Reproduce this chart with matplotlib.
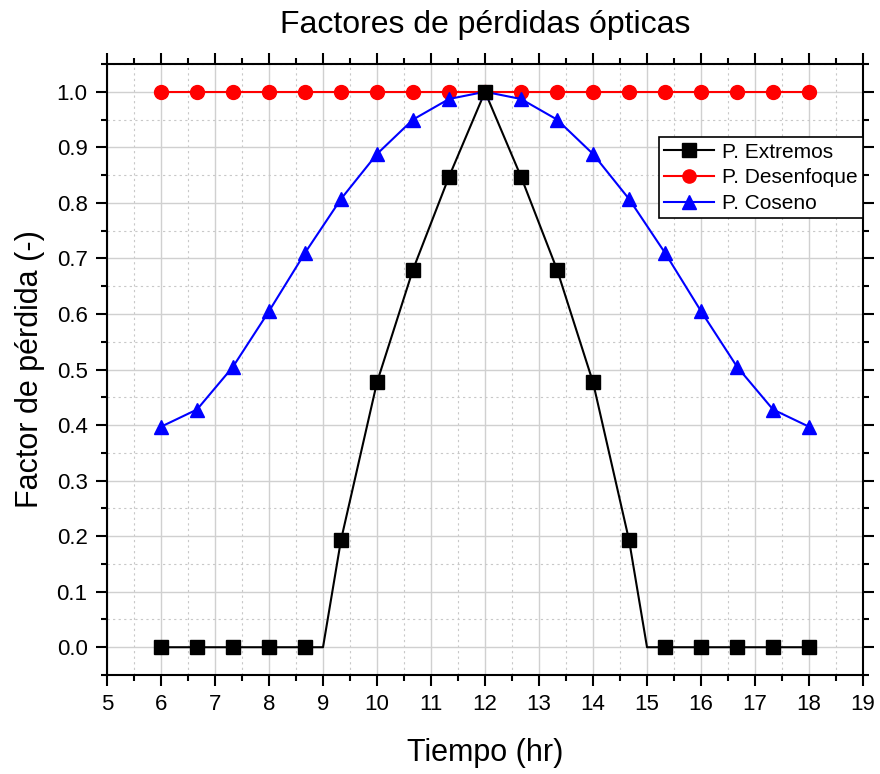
import matplotlib
matplotlib.use("Agg")
import matplotlib.pyplot as plt
from matplotlib.ticker import MultipleLocator

plt.rcParams['font.family'] = ['Liberation Sans', 'DejaVu Sans']

# marker data (every 2/3 hr)
hours = [6, 6.667, 7.333, 8, 8.667, 9.333, 10, 10.667, 11.333, 12,
         12.667, 13.333, 14, 14.667, 15.333, 16, 16.667, 17.333, 18]
extremos = [0, 0, 0, 0, 0, 0.193, 0.477, 0.680, 0.847, 1.0,
            0.847, 0.680, 0.477, 0.193, 0, 0, 0, 0, 0]
desenfoque = [1.0] * 19
coseno = [0.397, 0.428, 0.505, 0.605, 0.710, 0.807, 0.888, 0.950, 0.987, 1.0,
          0.987, 0.950, 0.888, 0.807, 0.710, 0.605, 0.505, 0.428, 0.397]

# line for extremos has breakpoints at 9 and 15 hr
ext_line_x = [6, 6.667, 7.333, 8, 8.667, 9, 9.333, 10, 10.667, 11.333, 12,
              12.667, 13.333, 14, 14.667, 15, 15.333, 16, 16.667, 17.333, 18]
ext_line_y = [0, 0, 0, 0, 0, 0, 0.193, 0.477, 0.680, 0.847, 1.0,
              0.847, 0.680, 0.477, 0.193, 0, 0, 0, 0, 0, 0]

fig = plt.figure(figsize=(8.8, 7.74), dpi=100)
ax = fig.add_axes([0.1216, 0.1279, 0.8591, 0.7894])

ax.plot(ext_line_x, ext_line_y, color='black', lw=1.5, zorder=3)
ax.plot(hours, extremos, 's', color='black', ms=10, zorder=4)
ax.plot(hours, desenfoque, '-', color='red', lw=1.5, marker='o', ms=10, zorder=3)
ax.plot(hours, coseno, '-', color='blue', lw=1.5, marker='^', ms=10, zorder=3)

# legend proxies
h1, = ax.plot([], [], color='black', lw=1.5, marker='s', ms=9.5, label='P. Extremos')
h2, = ax.plot([], [], color='red', lw=1.5, marker='o', ms=9.5, label='P. Desenfoque')
h3, = ax.plot([], [], color='blue', lw=1.5, marker='^', ms=9.5, label='P. Coseno')
leg = ax.legend(handles=[h1, h2, h3], loc='upper right', bbox_to_anchor=(1.0, 0.88),
                fontsize=15, fancybox=False, framealpha=1, edgecolor='black',
                borderpad=0.25, labelspacing=0.32, handlelength=2.4, handletextpad=0.4,
                borderaxespad=0)
leg.get_frame().set_linewidth(1.2)

ax.set_xlim(5, 19)
ax.set_ylim(-0.05, 1.05)
ax.xaxis.set_major_locator(MultipleLocator(1))
ax.xaxis.set_minor_locator(MultipleLocator(0.5))
ax.yaxis.set_major_locator(MultipleLocator(0.1))
ax.yaxis.set_minor_locator(MultipleLocator(0.05))
ax.yaxis.set_major_formatter(plt.FormatStrFormatter('%.1f'))

ax.grid(which='major', color='#d0d0d0', lw=1.0, ls='-')
ax.grid(which='minor', color='#c8c8c8', lw=0.8, ls=(0, (2, 3)))
ax.set_axisbelow(True)

for s in ax.spines.values():
    s.set_linewidth(1.5)
ax.tick_params(which='both', direction='out', top=True, right=True, width=1.5,
               labelsize=16)
ax.tick_params(which='major', length=8, pad=6)
ax.tick_params(which='minor', length=4)

ax.set_xlabel('Tiempo (hr)', fontsize=22, labelpad=16)
ax.set_ylabel('Factor de pérdida (-)', fontsize=22, labelpad=8)
ax.set_title('Factores de pérdidas ópticas', fontsize=23, pad=22)

fig.savefig('out.png', dpi=100)
